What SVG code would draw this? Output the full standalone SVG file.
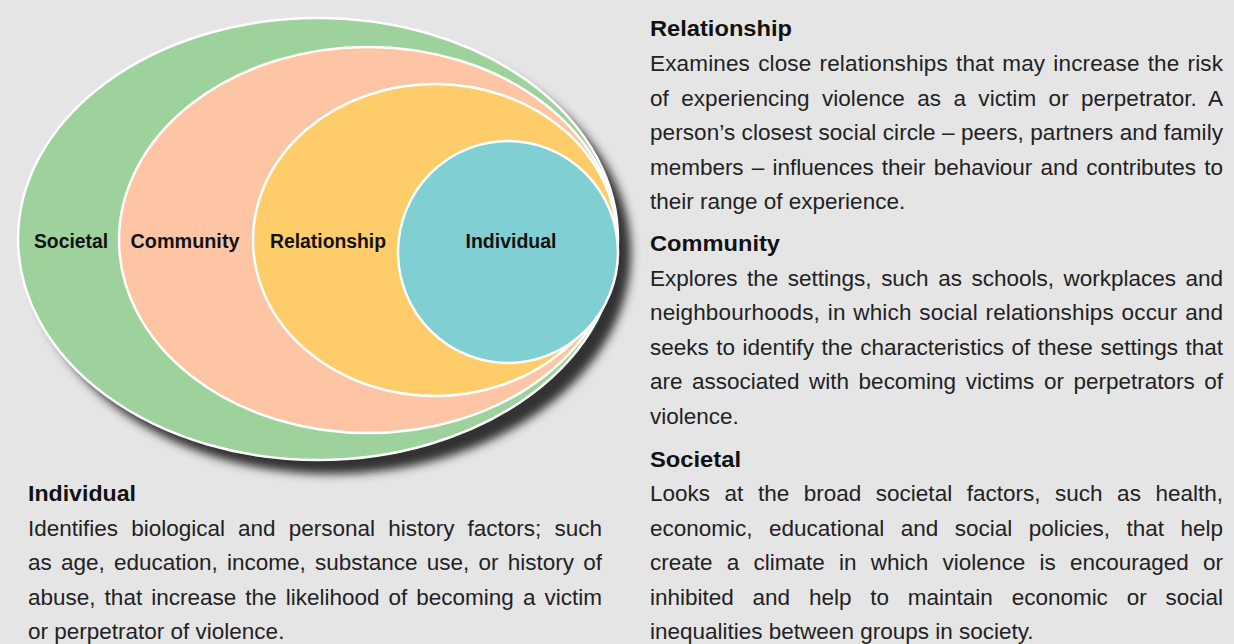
<svg xmlns="http://www.w3.org/2000/svg" width="1234" height="644" viewBox="0 0 1234 644">
<defs>
<filter id="blur" x="-10%" y="-10%" width="120%" height="120%"><feGaussianBlur stdDeviation="5"/></filter>
<style>
.ring{stroke:#fff;stroke-width:2.5}
.lbl{font-family:"Liberation Sans",Arial,sans-serif;font-weight:bold;font-size:20px;fill:#111;text-anchor:middle}
.hd{font-family:"Liberation Sans",Arial,sans-serif;font-weight:bold;font-size:22px;fill:#111}
.tx{font-family:"Liberation Sans",Arial,sans-serif;font-size:22.5px;fill:#222}
</style>
</defs>
<rect width="1234" height="644" fill="#e6e5e6"/>
<ellipse cx="331" cy="253" rx="300" ry="221" fill="#333" filter="url(#blur)"/>
<g id="societal"><ellipse class="ring" cx="318" cy="239" rx="300" ry="221" fill="#9dd29c"/><text class="lbl" x="71" y="248" textLength="74" lengthAdjust="spacingAndGlyphs">Societal</text></g>
<g id="community"><ellipse class="ring" cx="368" cy="240" rx="249" ry="193" fill="#fdc5a4"/><text class="lbl" x="185" y="248" textLength="109" lengthAdjust="spacingAndGlyphs">Community</text></g>
<g id="relationship"><ellipse class="ring" cx="435" cy="240" rx="182" ry="156" fill="#fecd69"/><text class="lbl" x="328" y="248" textLength="116" lengthAdjust="spacingAndGlyphs">Relationship</text></g>
<g id="individual"><ellipse class="ring" cx="508" cy="252" rx="110" ry="111" fill="#80d0d3"/><text class="lbl" x="511" y="248" textLength="91" lengthAdjust="spacingAndGlyphs">Individual</text></g>
<g id="connectors"/>
<g id="desc-relationship">
<text class="hd" x="650" y="36" textLength="142" lengthAdjust="spacingAndGlyphs">Relationship</text>
<text class="tx" x="650" y="71" word-spacing="1.7" textLength="573" lengthAdjust="spacing">Examines close relationships that may increase the risk</text>
<text class="tx" x="650" y="106" word-spacing="6" textLength="573" lengthAdjust="spacing">of experiencing violence as a victim or perpetrator. A</text>
<text class="tx" x="650" y="140" textLength="573" lengthAdjust="spacing">person’s closest social circle – peers, partners and family</text>
<text class="tx" x="650" y="175" word-spacing="2" textLength="573" lengthAdjust="spacing">members – influences their behaviour and contributes to</text>
<text class="tx" x="650" y="209">their range of experience.</text>
</g>
<g id="desc-community">
<text class="hd" x="650" y="251" textLength="130" lengthAdjust="spacingAndGlyphs">Community</text>
<text class="tx" x="650" y="286" word-spacing="3.3" textLength="573" lengthAdjust="spacing">Explores the settings, such as schools, workplaces and</text>
<text class="tx" x="650" y="320" word-spacing="1.3" textLength="573" lengthAdjust="spacing">neighbourhoods, in which social relationships occur and</text>
<text class="tx" x="650" y="355" word-spacing="1.3" textLength="573" lengthAdjust="spacing">seeks to identify the characteristics of these settings that</text>
<text class="tx" x="650" y="389" word-spacing="3.3" textLength="573" lengthAdjust="spacing">are associated with becoming victims or perpetrators of</text>
<text class="tx" x="650" y="424">violence.</text>
</g>
<g id="desc-societal">
<text class="hd" x="650" y="467" textLength="91" lengthAdjust="spacingAndGlyphs">Societal</text>
<text class="tx" x="650" y="501" word-spacing="8.3" textLength="573" lengthAdjust="spacing">Looks at the broad societal factors, such as health,</text>
<text class="tx" x="650" y="536" word-spacing="10.2" textLength="573" lengthAdjust="spacing">economic, educational and social policies, that help</text>
<text class="tx" x="650" y="570" word-spacing="8" textLength="573" lengthAdjust="spacing">create a climate in which violence is encouraged or</text>
<text class="tx" x="650" y="605" word-spacing="12.6" textLength="573" lengthAdjust="spacing">inhibited and help to maintain economic or social</text>
<text class="tx" x="650" y="639">inequalities between groups in society.</text>
</g>
<g id="desc-individual">
<text class="hd" x="28" y="501" textLength="108" lengthAdjust="spacingAndGlyphs">Individual</text>
<text class="tx" x="28" y="536" word-spacing="6.9" textLength="574" lengthAdjust="spacing">Identifies biological and personal history factors; such</text>
<text class="tx" x="28" y="570" word-spacing="3" textLength="574" lengthAdjust="spacing">as age, education, income, substance use, or history of</text>
<text class="tx" x="28" y="605" word-spacing="2.8" textLength="574" lengthAdjust="spacing">abuse, that increase the likelihood of becoming a victim</text>
<text class="tx" x="28" y="639">or perpetrator of violence.</text>
</g>
</svg>
